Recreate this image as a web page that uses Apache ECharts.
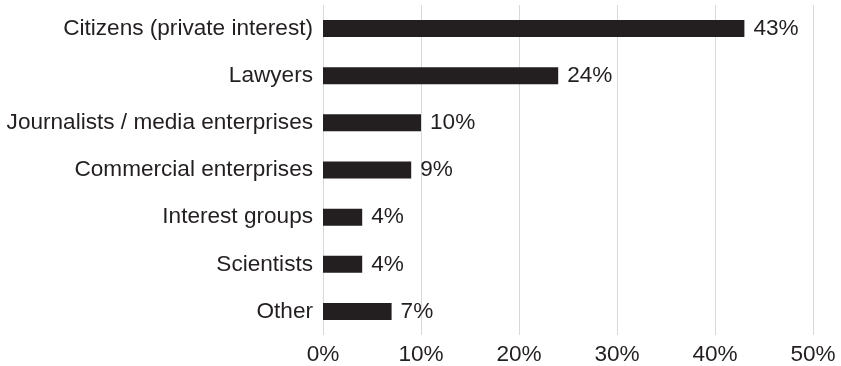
<!DOCTYPE html>
<html>
<head>
<meta charset="utf-8">
<script src="https://cdn.jsdelivr.net/npm/echarts@6/dist/echarts.min.js"></script>
<style>
  html, body { margin: 0; padding: 0; background: #fff; }
  #chart { width: 841px; height: 366px; }
</style>
</head>
<body>
<div id="chart"></div>
<script>
// Requester groups, top to bottom
const categories = [
  'Citizens (private interest)',
  'Lawyers',
  'Journalists / media enterprises',
  'Commercial enterprises',
  'Interest groups',
  'Scientists',
  'Other'
];
// Share of requests, percent
const shares = [43, 24, 10, 9, 4, 4, 7];
// Value axis ticks
const axisMin = 0;
const axisMax = 50;
const axisStep = 10;

const textColor = '#231f20';
const fontFamily = '"Liberation Sans", Arial, sans-serif';
const fontSize = 22.6;

const chart = echarts.init(document.getElementById('chart'), null, { renderer: 'canvas' });
chart.setOption({
  animation: false,
  backgroundColor: '#ffffff',
  grid: { left: 323, right: 28, top: 5, bottom: 30, containLabel: false },
  xAxis: {
    type: 'value',
    min: axisMin,
    max: axisMax,
    interval: axisStep,
    axisLine: { show: false },
    axisTick: { show: false },
    splitLine: { show: true, lineStyle: { color: '#d9d9d9', width: 1 } },
    axisLabel: {
      formatter: '{value}%',
      color: textColor,
      fontFamily: fontFamily,
      fontSize: fontSize,
      margin: 8
    }
  },
  yAxis: {
    type: 'category',
    data: categories,
    inverse: true,
    axisLine: { show: false },
    axisTick: { show: false },
    splitLine: { show: false },
    axisLabel: {
      color: textColor,
      fontFamily: fontFamily,
      fontSize: fontSize,
      margin: 10,
      padding: [4, 0, 0, 0]
    }
  },
  series: [{
    type: 'bar',
    data: shares,
    barWidth: 17,
    itemStyle: { color: '#231f20' },
    label: {
      show: true,
      position: 'right',
      distance: 9,
      formatter: '{c}%',
      color: textColor,
      fontFamily: fontFamily,
      fontSize: fontSize,
      padding: [4, 0, 0, 0]
    }
  }]
});
</script>
</body>
</html>
